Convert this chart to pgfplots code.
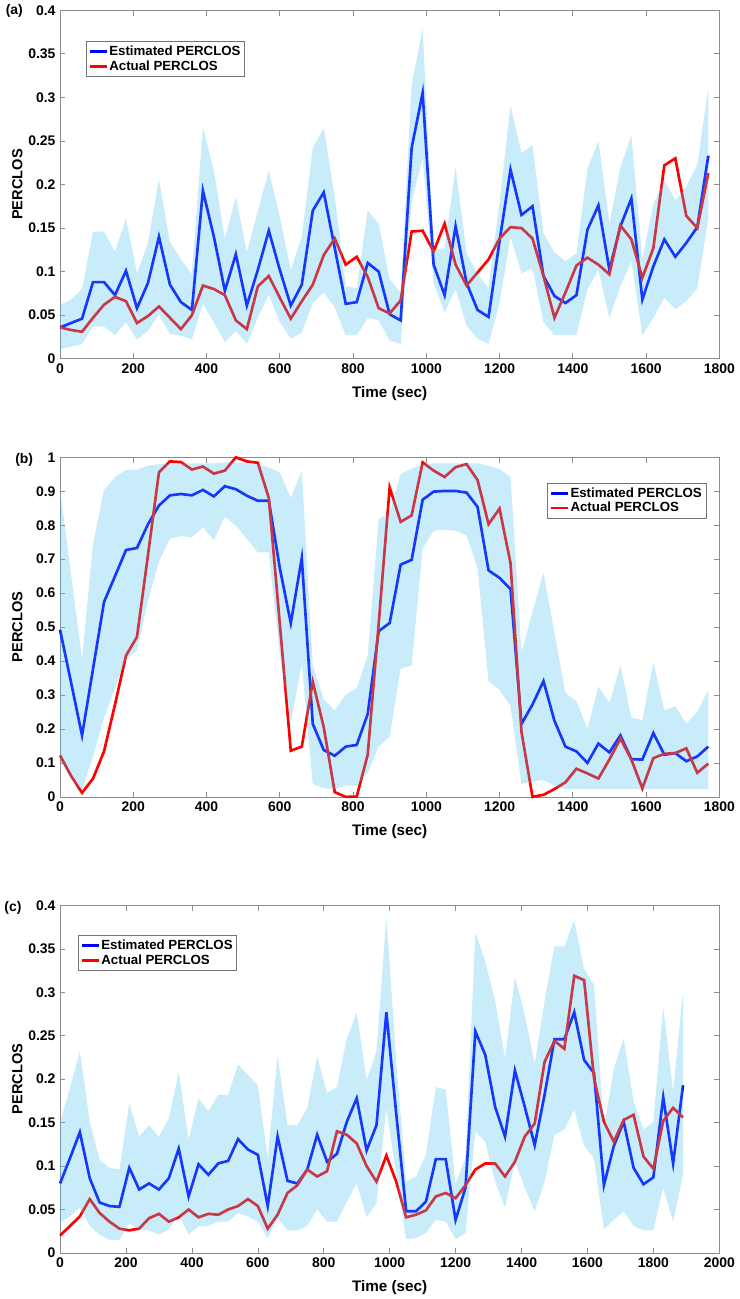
\documentclass[border=0pt]{standalone}
\usepackage{fontspec}
\setmainfont{Liberation Sans}
\usepackage{pgfplots}
\usepackage{pgfplotstable}
\usepgfplotslibrary{fillbetween}
\pgfplotsset{compat=1.18}
\definecolor{estblue}{rgb}{0,0,1}
\definecolor{actred}{rgb}{1,0,0}
\definecolor{bandblue}{rgb}{0.30,0.75,0.93}

% t  est  act  lo  hi
\pgfplotstableread{
t est act lo hi
0 0.036 0.036 0.011 0.062
30 0.041 0.033 0.014 0.068
60 0.046 0.031 0.017 0.080
90 0.088 0.047 0.037 0.146
120 0.088 0.062 0.037 0.146
150 0.073 0.071 0.027 0.123
180 0.101 0.066 0.042 0.161
210 0.058 0.041 0.022 0.098
240 0.087 0.049 0.032 0.133
270 0.140 0.060 0.051 0.206
300 0.085 0.047 0.028 0.134
330 0.065 0.034 0.027 0.114
360 0.056 0.050 0.022 0.097
390 0.193 0.084 0.063 0.266
420 0.140 0.080 0.042 0.216
450 0.078 0.073 0.019 0.138
480 0.120 0.044 0.032 0.186
510 0.061 0.034 0.017 0.122
540 0.102 0.083 0.047 0.170
570 0.147 0.095 0.074 0.216
600 0.102 0.070 0.042 0.163
630 0.061 0.046 0.023 0.102
660 0.085 0.066 0.030 0.140
690 0.170 0.085 0.064 0.242
720 0.191 0.119 0.076 0.265
750 0.127 0.138 0.059 0.186
780 0.063 0.108 0.027 0.083
810 0.065 0.117 0.027 0.081
840 0.110 0.094 0.047 0.170
870 0.100 0.058 0.044 0.155
900 0.051 0.052 0.021 0.091
930 0.044 0.067 0.017 0.076
960 0.242 0.146 0.180 0.314
990 0.305 0.147 0.231 0.379
1020 0.108 0.123 0.087 0.125
1050 0.073 0.155 0.053 0.127
1080 0.152 0.108 0.080 0.220
1110 0.087 0.084 0.038 0.121
1140 0.056 0.099 0.023 0.097
1170 0.048 0.114 0.017 0.081
1200 0.135 0.138 0.064 0.180
1230 0.217 0.151 0.140 0.290
1260 0.165 0.150 0.098 0.236
1290 0.175 0.138 0.104 0.245
1320 0.095 0.095 0.042 0.144
1350 0.072 0.047 0.027 0.122
1380 0.064 0.076 0.027 0.112
1410 0.073 0.107 0.027 0.121
1440 0.148 0.116 0.080 0.218
1470 0.176 0.108 0.102 0.250
1500 0.102 0.097 0.047 0.155
1530 0.152 0.153 0.083 0.220
1560 0.184 0.137 0.112 0.256
1590 0.068 0.093 0.027 0.114
1620 0.106 0.127 0.047 0.178
1650 0.137 0.222 0.070 0.205
1680 0.117 0.230 0.057 0.182
1710 0.133 0.164 0.066 0.197
1740 0.151 0.150 0.081 0.223
1770 0.233 0.213 0.161 0.310
}\dataA

\pgfplotstableread{
t est act lo hi
0 0.492 0.122 0.110 0.904
30 0.337 0.062 0.052 0.655
60 0.181 0.012 0.019 0.406
90 0.377 0.054 0.120 0.746
120 0.574 0.134 0.234 0.904
150 0.650 0.272 0.320 0.942
180 0.727 0.416 0.406 0.963
210 0.733 0.471 0.430 0.963
240 0.803 0.712 0.578 0.976
270 0.858 0.956 0.693 0.980
300 0.888 0.988 0.760 0.982
330 0.892 0.986 0.768 0.982
360 0.888 0.964 0.765 0.982
390 0.904 0.973 0.794 0.982
420 0.885 0.952 0.756 0.982
450 0.915 0.961 0.825 0.985
480 0.906 1.000 0.799 0.985
510 0.887 0.988 0.760 0.982
540 0.872 0.984 0.720 0.980
570 0.872 0.880 0.720 0.970
600 0.674 0.510 0.420 0.956
630 0.512 0.136 0.220 0.880
660 0.703 0.148 0.390 0.961
690 0.215 0.339 0.038 0.387
720 0.138 0.205 0.025 0.287
750 0.121 0.014 0.023 0.255
780 0.148 0.000 0.033 0.301
810 0.153 0.001 0.033 0.320
840 0.244 0.124 0.071 0.416
870 0.488 0.510 0.148 0.818
900 0.512 0.911 0.177 0.837
930 0.684 0.810 0.378 0.951
960 0.698 0.829 0.387 0.966
990 0.875 0.985 0.732 0.980
1020 0.899 0.961 0.784 0.982
1050 0.901 0.942 0.787 0.982
1080 0.901 0.971 0.784 0.982
1110 0.896 0.980 0.770 0.982
1140 0.854 0.933 0.674 0.982
1170 0.667 0.803 0.339 0.975
1200 0.645 0.849 0.315 0.965
1230 0.612 0.688 0.267 0.942
1260 0.215 0.191 0.038 0.425
1290 0.272 0.000 0.045 0.545
1320 0.341 0.006 0.050 0.660
1350 0.224 0.023 0.033 0.483
1380 0.148 0.043 0.023 0.306
1410 0.134 0.083 0.023 0.282
1440 0.100 0.069 0.023 0.200
1470 0.157 0.054 0.023 0.325
1500 0.131 0.110 0.023 0.277
1530 0.181 0.172 0.023 0.387
1560 0.111 0.110 0.023 0.234
1590 0.110 0.025 0.023 0.226
1620 0.188 0.114 0.023 0.397
1650 0.124 0.127 0.023 0.255
1680 0.129 0.129 0.023 0.267
1710 0.105 0.143 0.023 0.215
1740 0.119 0.071 0.023 0.251
1770 0.148 0.098 0.023 0.315
}\dataB

\pgfplotstableread{
t est act lo hi
0 0.080 0.020 0.035 0.150
30 0.109 0.031 0.042 0.190
60 0.139 0.042 0.052 0.232
90 0.086 0.062 0.031 0.151
120 0.058 0.046 0.021 0.107
150 0.054 0.036 0.015 0.098
180 0.053 0.028 0.015 0.096
210 0.098 0.026 0.034 0.172
240 0.073 0.028 0.027 0.134
270 0.080 0.040 0.026 0.147
300 0.073 0.045 0.021 0.134
330 0.086 0.036 0.027 0.155
360 0.120 0.041 0.044 0.208
390 0.065 0.050 0.021 0.130
420 0.102 0.041 0.031 0.178
450 0.090 0.045 0.031 0.163
480 0.103 0.044 0.036 0.182
510 0.106 0.050 0.036 0.182
540 0.131 0.054 0.046 0.217
570 0.119 0.062 0.042 0.205
600 0.113 0.054 0.036 0.193
630 0.054 0.028 0.017 0.109
660 0.134 0.044 0.040 0.227
690 0.083 0.069 0.026 0.147
720 0.080 0.078 0.026 0.147
750 0.096 0.096 0.031 0.167
780 0.136 0.088 0.050 0.226
810 0.105 0.094 0.036 0.184
840 0.114 0.140 0.036 0.191
870 0.151 0.136 0.059 0.247
900 0.178 0.126 0.080 0.277
930 0.118 0.100 0.041 0.199
960 0.147 0.082 0.057 0.232
990 0.277 0.112 0.167 0.387
1020 0.160 0.082 0.090 0.220
1050 0.048 0.041 0.016 0.082
1080 0.048 0.044 0.017 0.088
1110 0.059 0.049 0.023 0.113
1140 0.108 0.065 0.038 0.191
1170 0.108 0.069 0.036 0.188
1200 0.038 0.063 0.016 0.080
1230 0.075 0.078 0.023 0.109
1260 0.255 0.096 0.140 0.369
1290 0.228 0.103 0.128 0.335
1320 0.168 0.103 0.082 0.290
1350 0.134 0.088 0.052 0.224
1380 0.210 0.105 0.105 0.318
1410 0.168 0.134 0.075 0.274
1440 0.124 0.149 0.048 0.218
1470 0.182 0.220 0.082 0.290
1500 0.246 0.244 0.136 0.353
1530 0.246 0.235 0.142 0.353
1560 0.277 0.319 0.165 0.383
1590 0.222 0.314 0.123 0.327
1620 0.207 0.201 0.109 0.308
1650 0.078 0.151 0.027 0.144
1680 0.123 0.128 0.038 0.212
1710 0.151 0.153 0.048 0.247
1740 0.098 0.159 0.031 0.174
1770 0.079 0.111 0.026 0.142
1800 0.087 0.097 0.026 0.151
1830 0.179 0.152 0.075 0.283
1860 0.103 0.167 0.036 0.186
1890 0.193 0.156 0.090 0.301
}\dataC

\pgfplotsset{
  perclos/.style={
    scale only axis, width=496.5pt, anchor=south west,
    xmin=0, ymin=0, set layers,
    axis line style={black!45, line width=0.5pt},
    tick style={black!45, line width=0.5pt},
    tick align=inside, major tick length=4pt,
    every tick label/.append style={font=\fontsize{10.5}{12}\selectfont\bfseries},
    scaled ticks=false,
    xticklabel style={/pgf/number format/.cd, fixed, 1000 sep={}},
    yticklabel style={/pgf/number format/.cd, fixed, precision=2},
    /pgf/number format/assume math mode=true,
    xlabel={Time (sec)}, ylabel={PERCLOS},
    every axis y label/.style={at={(axis description cs:0,0.5)}, xshift=-32.25pt,
      rotate=90, anchor=center, font=\fontsize{11}{13}\selectfont\bfseries},
    every axis x label/.style={at={(axis description cs:0.5,0)}, yshift=-26pt,
      anchor=center, font=\fontsize{11.5}{13}\selectfont\bfseries},
    legend cell align=left,
    legend style={draw=black!55, fill=white, inner sep=2pt, row sep=0.5pt,
      font=\fontsize{10}{12}\selectfont\bfseries, nodes={inner sep=1pt}},
    legend image code/.code={\draw[##1] (0pt,0pt) -- (12.5pt,0pt);},
  },
  est/.style={estblue, line width=2pt},
  act/.style={actred, line width=2pt},
  band/.style={fill=bandblue, fill opacity=0.3, draw=none},
}

\begin{document}
\begin{tikzpicture}
% page corners
\path (0pt,0pt);
\path (552.75pt,974.25pt);

% (a)
\begin{axis}[perclos, at={(43.5pt,706.5pt)}, height=262.5pt,
  xmax=1800, ymax=0.4, xtick={0,200,...,1800}, ytick={0,0.05,...,0.4},
  legend style={at={(0.039,0.911)}, anchor=north west}]
\addplot[est, on layer=axis tick labels] table[x=t, y=est] {\dataA};
\addlegendentry{Estimated PERCLOS}
\addplot[act, on layer=axis tick labels] table[x=t, y=act] {\dataA};
\addlegendentry{Actual PERCLOS}
\addplot[name path=hiA, draw=none, forget plot] table[x=t, y=hi] {\dataA};
\addplot[name path=loA, draw=none, forget plot] table[x=t, y=lo] {\dataA};
\addplot[band, forget plot] fill between[of=hiA and loA];
\end{axis}

% (b)
\begin{axis}[perclos, at={(43.5pt,376.5pt)}, height=255.75pt,
  xmax=1800, ymax=1, xtick={0,200,...,1800}, ytick={0,0.1,...,1},
  yticklabel style={/pgf/number format/precision=1},
  legend style={at={(0.980,0.924)}, anchor=north east}]
\addplot[est, on layer=axis tick labels] table[x=t, y=est] {\dataB};
\addlegendentry{Estimated PERCLOS}
\addplot[act, on layer=axis tick labels] table[x=t, y=act] {\dataB};
\addlegendentry{Actual PERCLOS}
\addplot[name path=hiB, draw=none, forget plot] table[x=t, y=hi] {\dataB};
\addplot[name path=loB, draw=none, forget plot] table[x=t, y=lo] {\dataB};
\addplot[band, forget plot] fill between[of=hiB and loB];
\end{axis}

% (c)
\begin{axis}[perclos, at={(43.5pt,33pt)}, height=261.75pt,
  xmax=2000, ymax=0.4, xtick={0,200,...,2000}, ytick={0,0.05,...,0.4},
  legend style={at={(0.027,0.914)}, anchor=north west}]
\addplot[est, on layer=axis tick labels] table[x=t, y=est] {\dataC};
\addlegendentry{Estimated PERCLOS}
\addplot[act, on layer=axis tick labels] table[x=t, y=act] {\dataC};
\addlegendentry{Actual PERCLOS}
\addplot[name path=hiC, draw=none, forget plot] table[x=t, y=hi] {\dataC};
\addplot[name path=loC, draw=none, forget plot] table[x=t, y=lo] {\dataC};
\addplot[band, forget plot] fill between[of=hiC and loC];
\end{axis}

\node[font=\fontsize{10.5}{12}\selectfont\bfseries] at (9pt,968.5pt) {(a)};
\node[font=\fontsize{10.5}{12}\selectfont\bfseries] at (16.5pt,630pt) {(b)};
\node[font=\fontsize{10.5}{12}\selectfont\bfseries] at (8pt,293pt) {(c)};
\end{tikzpicture}
\end{document}
